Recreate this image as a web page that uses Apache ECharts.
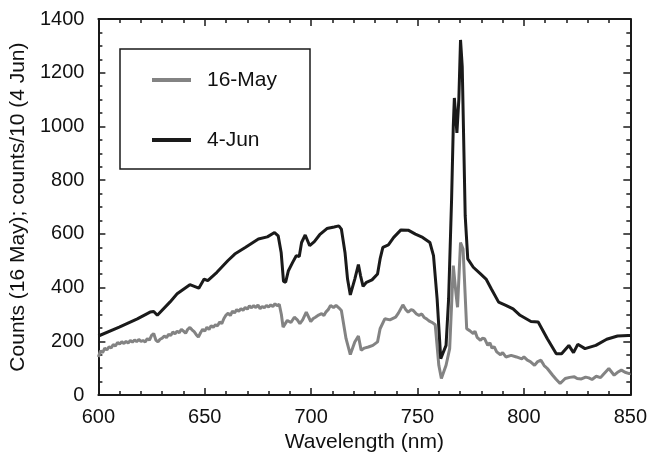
<!DOCTYPE html>
<html><head><meta charset="utf-8">
<script src="https://cdn.jsdelivr.net/npm/echarts@6/dist/echarts.min.js"></script>
<style>html,body{margin:0;padding:0;background:#fff}#c{width:650px;height:458px}</style>
</head><body><div id="c"></div>
<script>
const seriesNames = ['16-May', '4-Jun'];
// [wavelength (nm), value]
const junPoints = [[600,220],[609.8,253],[618.3,284],[624.3,309],[626,311],[627.7,297],[633.6,346],[637,377],[643,411],[647.2,398],[649.7,432],[651.4,426],[655.7,457],[660.8,500],[664.1,525],[669.2,550],[675.2,581],[679.4,589],[682.8,605],[684.5,593],[685.9,531],[687,423],[688,420],[689.3,463],[691.3,494],[693,519],[694.4,516],[695.5,568],[697.2,596],[699.3,556],[701.5,571],[704,597],[707.4,620],[710.8,626],[713,630],[714.2,618],[715.9,531],[717.1,432],[718.4,373],[719.3,377],[720.5,432],[722.2,486],[723.2,445],[724.4,405],[726,420],[728.6,429],[731.2,451],[732.4,507],[733.7,550],[736.3,559],[738.8,587],[742.2,615],[745.6,614],[749,599],[752.4,587],[755.8,568],[757.5,519],[759.2,358],[760.9,136],[761.7,130],[763.4,185],[764.6,358],[766,729],[766.8,1001],[767.3,1106],[768.5,976],[769.4,1100],[770.2,1322],[771,1223],[772.4,667],[773.6,507],[776.2,476],[779.6,451],[782.2,432],[784.7,395],[788.1,346],[791.5,334],[794.9,321],[798.2,297],[803.3,274],[806.7,272],[811,210],[815.2,154],[817.7,154],[821.1,185],[823.3,158],[825.3,189],[828.7,173],[833.8,185],[838.9,208],[844,220],[849,222],[850,222]];
const mayPoints = [[600,142],[601,165],[602,158],[603,175],[604,168],[605,180],[606,176],[607,188],[608,183],[609,196],[610,190],[611,199],[612,192],[613,200],[614,194],[615,203],[616,197],[617,205],[618,199],[619,207],[620,200],[621,203],[622,198],[623,210],[624,205],[625,222],[626,229],[627,205],[628,198],[629,208],[630,212],[631,220],[632,214],[633,226],[634,222],[635,235],[636,228],[637,238],[638,232],[639,245],[640,238],[641,230],[642,245],[643,252],[644,243],[645,236],[646,225],[647,216],[648,232],[649,245],[650,238],[651,253],[652,244],[653,258],[654,252],[655,262],[656,258],[657,272],[658,266],[659,285],[660,298],[661,305],[662,296],[663,312],[664,306],[665,318],[666,312],[667,322],[668,316],[669,326],[670,320],[671,332],[672,325],[673,333],[674,326],[675,335],[676,322],[677,330],[678,325],[679,334],[680,328],[681,336],[682,330],[683,340],[684,333],[685,338],[686,300],[686.8,253],[688.8,278],[690.5,270],[692.1,290],[693.5,280],[694.7,266],[696,280],[697.7,309],[699.8,274],[701,285],[702,290],[703.5,298],[704.9,303],[706,296],[707,310],[708,318],[709.1,334],[710.5,326],[711.7,334],[713,325],[714.2,315],[716.4,210],[718.4,151],[720.5,198],[722.2,220],[723.5,167],[725,175],[726.9,179],[729,185],[731.2,198],[732.4,247],[734.6,284],[737,280],[739.7,290],[741,305],[743.1,336],[744.5,318],[745.6,309],[747,318],[748,315],[749.5,302],[750.7,297],[752,302],[753,290],[754.5,282],[755.8,274],[757,270],[758.3,262],[760,111],[761.2,62],[763.4,111],[765.1,173],[766.8,482],[768,383],[768.8,327],[770.2,568],[771.4,544],[773.1,247],[774.5,240],[776.2,229],[777,238],[778,215],[779.6,204],[780.5,212],[781.5,210],[783,185],[784,195],[785,175],[786,180],[787.2,161],[789,150],[790,158],[791.5,142],[794,148],[796.5,142],[799,135],[800,142],[801.6,130],[803,125],[805,111],[806.5,125],[808,130],[809.5,110],[811,99],[813.5,74],[815,60],[817,43],[819.4,62],[821.5,66],[823.7,68],[825,62],[827,60],[829,67],[830.5,64],[832,58],[834,70],[836,65],[837.3,77],[839.9,99],[842.4,74],[844,85],[845.8,93],[847.5,85],[849.5,80],[850,82]];

const chart = echarts.init(document.getElementById('c'));
const font = 'Liberation Sans, Arial, sans-serif';
const ink = '#1a1a1a';
function mkX(pos, labels) {
  return {type:'value', min:600, max:850, interval:50, position:pos,
    axisLine:{show:true, onZero:false, lineStyle:{color:ink, width:2}},
    axisTick:{show:true, inside:true, length:7, lineStyle:{color:ink, width:1.5}},
    minorTick:{show:true, splitNumber:5, length:4, lineStyle:{color:ink, width:1.5}},
    splitLine:{show:false}, minorSplitLine:{show:false},
    axisLabel:{show:labels, margin:12, fontFamily:font, fontSize:20, color:'#111'}};
}
function mkY(pos, labels) {
  return {type:'value', min:0, max:1400, interval:200, position:pos,
    axisLine:{show:true, onZero:false, lineStyle:{color:ink, width:2}},
    axisTick:{show:true, inside:true, length:7, lineStyle:{color:ink, width:1.5}},
    minorTick:{show:true, splitNumber:4, length:4, lineStyle:{color:ink, width:1.5}},
    splitLine:{show:false}, minorSplitLine:{show:false},
    axisLabel:{show:labels, margin:14, fontFamily:font, fontSize:20, color:'#111', formatter:v=>String(v)}};
}
const xb = mkX('bottom', true);
xb.name = 'Wavelength (nm)'; xb.nameLocation = 'middle'; xb.nameGap = 33;
xb.nameTextStyle = {fontFamily:font, fontSize:21, color:'#111'};
const yl = mkY('left', true);
yl.name = 'Counts (16 May); counts/10 (4 Jun)'; yl.nameLocation = 'middle'; yl.nameGap = 64;
yl.nameTextStyle = {fontFamily:font, fontSize:21, color:'#111'};

chart.setOption({
  animation:false,
  backgroundColor:'#fff',
  grid:{left:94, right:19, top:19, bottom:62},
  xAxis:[xb, mkX('top', false)],
  yAxis:[yl, mkY('right', false)],
  legend:{show:true, orient:'vertical', left:147, top:64, padding:5, itemGap:38, itemWidth:39, itemHeight:4,
    icon:'rect', textStyle:{fontFamily:font, fontSize:21, lineHeight:22, color:'#111', padding:[0,0,0,11]},
    data:seriesNames},
  graphic:[{type:'rect', shape:{x:120, y:49, width:190, height:120}, style:{fill:'none', stroke:ink, lineWidth:1.5}, z:10}],
  series:[
    {name:seriesNames[0], type:'line', data:mayPoints, showSymbol:false, symbol:'none',
     lineStyle:{color:'#838383', width:3}, itemStyle:{color:'#838383'}, xAxisIndex:0, yAxisIndex:0},
    {name:seriesNames[1], type:'line', data:junPoints, showSymbol:false, symbol:'none',
     lineStyle:{color:ink, width:3}, itemStyle:{color:ink}, xAxisIndex:0, yAxisIndex:0},
    {type:'line', data:[], xAxisIndex:1, yAxisIndex:1}
  ]
});
</script></body></html>
